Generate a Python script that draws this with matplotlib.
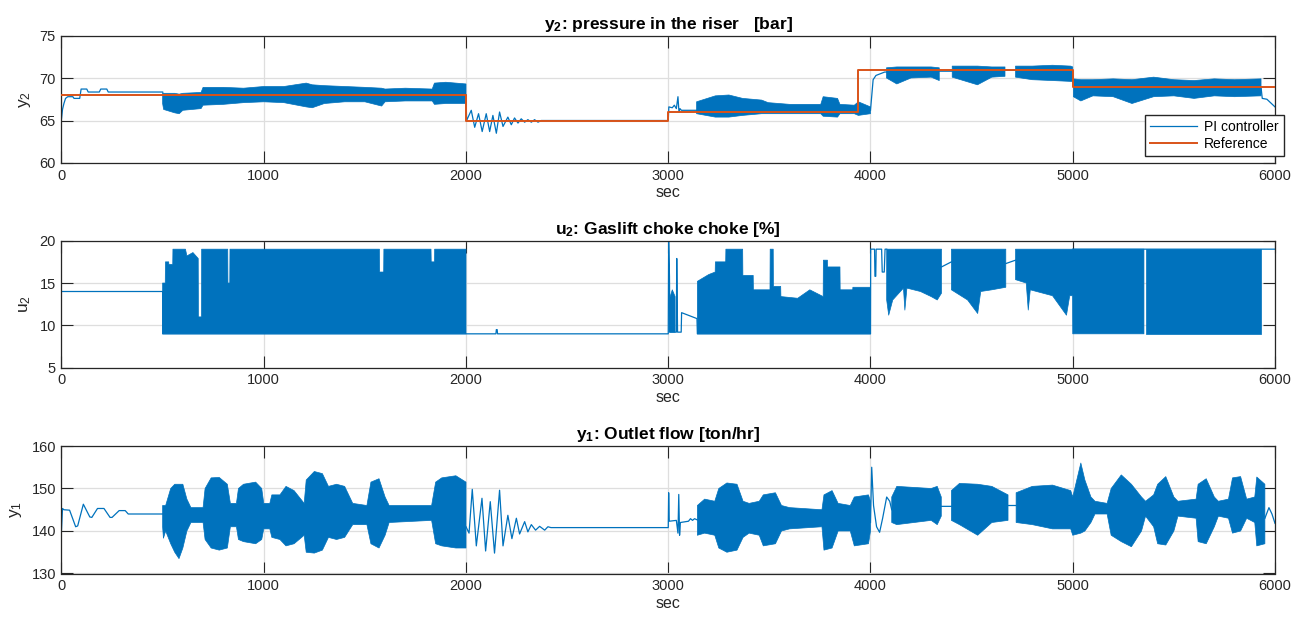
import numpy as np
import matplotlib
matplotlib.use("Agg")
import matplotlib.pyplot as plt

nan = float("nan")

# ---------------- y2 : pressure in the riser ----------------
ref_t = [0, 2000, 2000, 3000, 3000, 3940, 3940, 5000, 5000, 6000]
ref_v = [68, 68, 65, 65, 66, 66, 71, 71, 69, 69]

# traced PI response outside the dense parts (nan = hidden under a dense band)
y2_t = [0, 5, 12, 20, 31, 56, 62, 90, 97, 125, 132, 187, 194, 224, 231, 500, 500.5,
        2000, 2003, 2026, 2043, 2062, 2080, 2100, 2117, 2133, 2150, 2166, 2183, 2207,
        2224, 2240, 2257, 2273, 2290, 2306, 2323, 2339, 2356, 2372, 3000, 3003, 3020,
        3030, 3040, 3048, 3053, 3058, 3065, 3140, 3140.5,
        4000, 4013, 4027, 4070, 4080, 4080.5, 4340, 4404, 4404.5, 4665, 4717, 4717.5,
        5000, 5003, 5003.5, 5931, 5937, 5960, 6000]
y2_v = [65.2, 66.3, 67.0, 67.6, 67.8, 67.8, 67.6, 67.6, 68.7, 68.7, 68.35, 68.35, 68.7,
        68.7, 68.35, 68.35, nan,
        68.0, 65.0, 66.2, 64.2, 65.8, 63.7, 65.8, 63.7, 65.6, 63.5, 66.0, 64.3, 65.4,
        64.5, 65.3, 64.7, 65.2, 64.8, 65.1, 64.8, 65.1, 64.8, 65.0, 65.0, 66.6, 66.5,
        66.8, 66.4, 67.8, 66.0, 66.4, 66.2, 66.2, nan,
        66.2, 69.8, 70.3, 70.7, 70.7, nan, 70.8, 70.8, nan, 70.9, 70.9, nan,
        70.6, 69.0, nan, 68.9, 67.6, 67.5, 66.6]

# envelope of the dense oscillation (nan = no band)
y2_band_t = [500, 505, 560, 582, 600, 690, 700, 800, 900, 1000, 1100, 1210, 1240, 1300,
             1400, 1500, 1583, 1600, 1700, 1833, 1844, 1900, 2000, 2001,
             3140, 3233, 3300, 3368, 3462, 3494, 3600, 3754, 3766, 3837, 3849, 3920,
             3940, 4000, 4001,
             4079, 4130, 4200, 4300, 4340, 4341,
             4404, 4529, 4600, 4665, 4666,
             4717, 4800, 4900, 4990, 5000, 5001,
             5003, 5040, 5100, 5200, 5293, 5400, 5500, 5600, 5700, 5800, 5931]
y2_band_lo = [67.0, 66.3, 65.9, 65.8, 66.2, 66.4, 66.8, 66.9, 67.1, 67.2, 67.1, 66.6, 66.5,
              67.0, 67.2, 67.2, 66.7, 67.2, 67.3, 67.3, 66.9, 67.0, 67.0, nan,
              65.8, 65.4, 65.4, 65.6, 65.8, 65.8, 65.8, 65.8, 65.5, 65.4, 65.8, 65.8,
              65.6, 65.8, nan,
              70.0, 69.3, 70.0, 70.1, 69.7, nan,
              70.1, 69.2, 70.1, 70.2, nan,
              70.1, 69.8, 69.7, 69.6, 69.6, nan,
              67.8, 67.3, 67.9, 67.8, 67.0, 67.8, 67.9, 67.6, 67.9, 67.8, 67.9]
y2_band_hi = [68.3, 68.2, 68.2, 68.1, 68.2, 68.3, 68.9, 68.9, 68.8, 69.0, 69.0, 69.4, 69.2,
              69.1, 69.0, 68.9, 68.8, 68.7, 68.8, 68.7, 69.4, 69.5, 69.3, nan,
              67.2, 67.9, 68.0, 67.6, 67.4, 67.1, 66.9, 66.9, 67.8, 67.6, 66.9, 66.8,
              67.2, 66.6, nan,
              71.2, 71.3, 71.3, 71.3, 71.2, nan,
              71.4, 71.4, 71.3, 71.3, nan,
              71.4, 71.4, 71.5, 71.4, 71.3, nan,
              69.9, 69.8, 69.8, 69.9, 69.8, 70.1, 69.8, 69.7, 69.9, 69.8, 69.9]

# ---------------- u2 : gaslift choke ----------------
u2_t = [0, 500, 500.5, 2000, 2148, 2150, 2154, 2156, 3000, 3002, 3006, 3008, 3040, 3042,
        3046, 3064, 3066, 3142, 3144, 4000, 4001, 4020, 4022, 4026, 4028, 4055, 4058,
        4068, 4072, 4080, 4080.5, 4351, 4400, 4400.5, 4669, 4717, 4717.5, 5000, 5931,
        6000]
u2_v = [14, 14, 9, 9, 9, 9.5, 9.5, 9, 9, 19.9, 15.8, 9.2, 9.2, 17.9, 9.2, 9.2, 11.5, 10.8,
        9, 9, 19, 19, 15.8, 15.8, 19, 19, 16.3, 16.3, 19, 19, nan, 16.9, 17.5, nan, 17.3,
        17.7, nan, 19, 19, 19]

u2_band_t = [500, 513, 514, 530, 531, 550, 551, 613, 620, 650, 676, 677, 692, 693, 822,
             823, 832, 833, 1572, 1573, 1593, 1594, 1827, 1828, 1844, 1845, 2000, 2001,
             3004, 3020, 3034, 3035,
             3144, 3200, 3232, 3233, 3284, 3285, 3368, 3369, 3420, 3421, 3503, 3504, 3519,
             3520, 3556, 3557, 3640, 3700, 3766, 3767, 3787, 3788, 3849, 3850, 3912, 3913,
             4000, 4001,
             4080, 4090, 4110, 4163, 4170, 4180, 4247, 4300, 4330, 4351, 4352,
             4400, 4480, 4530, 4545, 4600, 4669, 4670,
             4717, 4770, 4780, 4790, 4900, 4969, 4985, 4999, 5000, 5352, 5353,
             5360, 5931]
u2_band_lo = [9] * 27 + [nan,
              9.2, 9.2, 9.2, nan] + [9] * 27 + [nan,
              13.0, 11.2, 13.0, 14.4, 11.8, 14.4, 14.0, 13.4, 13.0, 13.8, nan,
              14.2, 13.0, 11.4, 14.0, 14.2, 14.5, nan,
              15.4, 15.0, 11.8, 14.2, 13.5, 11.2, 13.5, 13.5, 9, 9, nan,
              9, 9]
u2_band_hi = [15, 15, 17.5, 17.5, 17.2, 17.2, 19, 19, 18.2, 18.6, 17.9, 11, 11, 19, 19,
              15, 15, 19, 19, 16.3, 16.3, 19, 19, 17.5, 17.5, 19, 19, nan,
              13.0, 14.2, 13.4, nan,
              15.2, 16.0, 16.3, 17.5, 17.5, 19, 19, 15.9, 15.9, 14.2, 14.2, 19, 19,
              14.6, 14.6, 13.4, 13.2, 14.2, 13.4, 17.7, 17.7, 16.9, 16.9, 14.2, 14.2, 14.5,
              14.5, nan,
              19, 19, 19, 19, 19, 19, 19, 19, 19, 19, nan,
              19, 19, 19, 19, 19, 19, nan,
              19, 19, 19, 19, 19, 19, 19, 19, 19, 19, nan,
              19, 19]

# ---------------- y1 : outlet flow ----------------
y1_t = [0, 5, 12, 40, 70, 80, 108, 140, 150, 178, 210, 240, 250, 285, 315, 330, 500, 500.5,
        2000, 2015, 2031, 2051, 2079, 2097, 2120, 2141, 2166, 2183, 2207, 2227, 2249,
        2265, 2290, 2306, 2323, 2344, 2364, 2389, 2405, 2420, 3000, 3002, 3005, 3040,
        3048, 3052, 3056, 3060, 3100, 3110, 3120, 3130, 3144, 3144.5,
        4000, 4006, 4015, 4030, 4045, 4060, 4080, 4095, 4105, 4105.5,
        4350, 4400, 4400.5, 4680, 4720, 4720.5, 5950, 5970, 5985, 6000]
y1_v = [140.3, 145.3, 145.0, 144.9, 141.0, 141.2, 146.3, 143.3, 143.2, 145.3, 145.3,
        143.2, 143.2, 144.8, 144.8, 144.0, 144.0, nan,
        141.0, 139.5, 149.8, 136.5, 147.7, 135.3, 146.9, 134.8, 149.6, 136.5, 143.7,
        138.2, 143.0, 139.3, 142.2, 139.8, 141.5, 140.2, 141.1, 140.2, 141.0, 140.8,
        140.8, 149.0, 142.3, 142.5, 139.5, 148.6, 139.0, 142.0, 142.3, 142.9, 142.5,
        142.9, 142.6, nan,
        142.0, 155.0, 146.0, 141.0, 139.7, 143.0, 148.0, 147.0, 145.0, nan,
        145.8, 145.8, nan, 146.0, 146.0, nan, 143.0, 145.5, 144.0, 141.8]

y1_band_t = [500, 504, 515, 540, 560, 581, 600, 620, 640, 700, 710, 740, 780, 820, 835,
             865, 875, 900, 960, 990, 1000, 1030, 1040, 1080, 1110, 1150, 1200, 1210,
             1250, 1290, 1320, 1360, 1400, 1440, 1510, 1530, 1570, 1600, 1620, 1830,
             1850, 1880, 1950, 2000, 2001,
             3144, 3180, 3230, 3250, 3290, 3340, 3370, 3400, 3450, 3470, 3530, 3560,
             3600, 3760, 3770, 3810, 3840, 3900, 3920, 3990, 4000, 4001,
             4105, 4130, 4300, 4330, 4350, 4351,
             4400, 4440, 4530, 4600, 4680, 4681,
             4720, 4800, 4900, 4990, 5000, 5040, 5060, 5090, 5110, 5170, 5190, 5240,
             5290, 5340, 5360, 5400, 5420, 5460, 5500, 5520, 5610, 5620, 5660, 5700,
             5720, 5770, 5790, 5830, 5860, 5900, 5910, 5950]
y1_band_lo = [141, 138.3, 140, 137, 135, 133.5, 136, 140, 142, 142, 138, 136, 135.5, 136,
              141, 141, 138, 137.5, 137, 138, 140.5, 140.5, 138.5, 138, 136.5, 137, 139,
              135, 134.8, 135.5, 138.5, 138, 138.5, 141.5, 141.5, 137, 136, 139, 142,
              142.5, 137, 136.5, 136, 136, nan,
              139, 139.5, 139, 136, 135, 135.5, 138.5, 139.5, 139, 136.5, 137, 140,
              140.5, 141, 135.5, 136, 140, 140, 136.5, 137, 140, nan,
              142, 141.5, 142.5, 141.5, 143.5, nan,
              142.5, 141.5, 139, 142, 142.5, nan,
              142, 141.5, 140.5, 140.5, 139, 139.5, 140, 142, 144, 144, 139, 137.5,
              136.3, 140, 143.5, 141, 137, 136.7, 140, 143.5, 143, 137.5, 137, 141,
              143.5, 143, 139.5, 140, 143, 142, 136.5, 137]
y1_band_hi = [146, 146, 146, 150, 151, 151, 151, 147.5, 145.5, 145.5, 150, 152.5, 152.6,
              151, 146.5, 146.5, 150, 151, 151.5, 150, 146.5, 146.5, 148.5, 148.5, 150.5,
              149.5, 146.5, 152, 154, 153.5, 150.5, 151, 150.5, 146.5, 146, 151.5, 152.3,
              148, 146, 146, 151.5, 152.5, 153, 151.5, nan,
              146, 147.5, 147, 150, 151.3, 151, 147, 146.5, 147, 148.5, 149, 146,
              145.5, 145, 148.5, 149.5, 146.5, 146, 148, 148.5, 147, nan,
              148, 150.5, 150, 150.5, 148, nan,
              149.5, 151.2, 151, 150.5, 148.5, nan,
              149, 150.5, 150.8, 149.5, 148, 156, 152, 148, 147, 146.5, 150, 153.2,
              151, 148, 147, 148.5, 151, 152.8, 148, 147, 147.5, 151, 152.3, 148,
              147, 147.5, 152.5, 152.8, 147.5, 148, 152.7, 151]

xticks = [0, 1000, 2000, 3000, 4000, 5000, 6000]

# ---------------- styling ----------------
plt.rcParams["font.family"] = ["Liberation Sans", "DejaVu Sans"]
plt.rcParams["mathtext.fontset"] = "custom"
plt.rcParams["mathtext.rm"] = "Liberation Sans"
plt.rcParams["mathtext.it"] = "Liberation Sans:italic"
plt.rcParams["mathtext.bf"] = "Liberation Sans:bold"

BLUE = "#0072BD"
ORANGE = "#D95319"
DARK = "#262626"

fig = plt.figure(figsize=(13.03, 6.18), dpi=100)
W, H = 1303.0, 618.0
left = 61.5 / W
width = 1213.5 / W


def make_ax(top_px, bot_px):
    return fig.add_axes([left, 1 - bot_px / H, width, (bot_px - top_px) / H])


def style(ax, ylim, yticks, ylabel, title):
    ax.set_xlim(0, 6000)
    ax.set_ylim(*ylim)
    ax.set_xticks(xticks)
    ax.set_yticks(yticks)
    ax.grid(True, color="#dedede", lw=0.9)
    ax.set_axisbelow(True)
    ax.tick_params(direction="in", length=8.5, width=0.8, top=True, right=True,
                   colors=DARK, labelsize=10.5, pad=4)
    for s in ax.spines.values():
        s.set_color(DARK)
        s.set_linewidth(0.9)
    ax.set_xlabel("sec", fontsize=11.5, color=DARK, labelpad=2)
    ax.set_ylabel(ylabel, fontsize=12.5, color=DARK, labelpad=5)
    ax.set_title(title, fontsize=12.5, fontweight="bold", color="black", pad=5)


def band(ax, t, lo, hi):
    ax.fill_between(np.array(t, float), np.array(lo, float), np.array(hi, float),
                    color=BLUE, lw=0.5, edgecolor=BLUE, zorder=2)


# top
ax1 = make_ax(35.5, 163)
band(ax1, y2_band_t, y2_band_lo, y2_band_hi)
l1, = ax1.plot(y2_t, y2_v, color=BLUE, lw=0.9, zorder=2, label="PI controller")
l2, = ax1.plot(ref_t, ref_v, color=ORANGE, lw=1.4, zorder=3, label="Reference")
style(ax1, (60, 75), [60, 65, 70, 75], r"$\mathregular{y_2}$",
      r"$\mathbf{y_2}$: pressure in the riser   [bar]")
ax1.legend(handles=[l1, l2], loc="upper left",
           bbox_to_anchor=(1145 / W, 1 - 115 / H), bbox_transform=fig.transFigure,
           borderaxespad=0, fontsize=10, fancybox=False, edgecolor=DARK, framealpha=1,
           handlelength=3.4, borderpad=0.35, labelspacing=0.25, handletextpad=0.5)

# middle
ax2 = make_ax(240.7, 367.7)
band(ax2, u2_band_t, u2_band_lo, u2_band_hi)
ax2.plot(u2_t, u2_v, color=BLUE, lw=0.9, zorder=2)
style(ax2, (5, 20), [5, 10, 15, 20], r"$\mathregular{u_2}$",
      r"$\mathbf{u_2}$: Gaslift choke choke [%]")

# bottom
ax3 = make_ax(446, 573.5)
band(ax3, y1_band_t, y1_band_lo, y1_band_hi)
ax3.plot(y1_t, y1_v, color=BLUE, lw=0.9, zorder=2)
style(ax3, (130, 160), [130, 140, 150, 160], r"$\mathregular{y_1}$",
      r"$\mathbf{y_1}$: Outlet flow [ton/hr]")

fig.savefig("out.png", dpi=100)
